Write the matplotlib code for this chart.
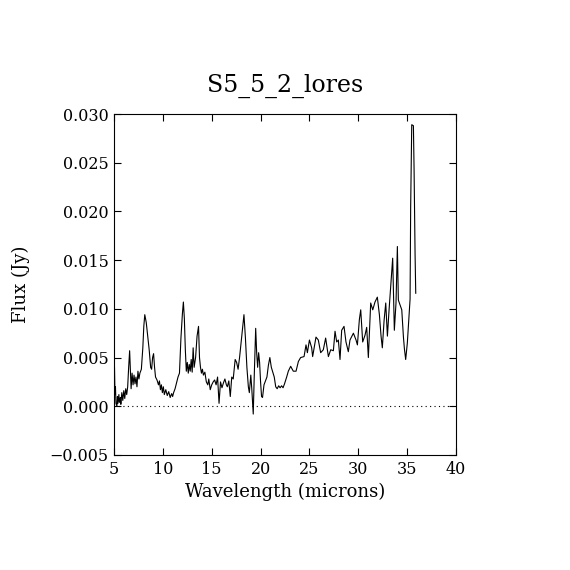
import matplotlib
matplotlib.use("Agg")
import matplotlib.pyplot as plt

wavelength = [
    5.00, 5.05, 5.10, 5.15, 5.20, 5.30, 5.35, 5.40, 5.50, 5.55,
    5.65, 5.70, 5.80, 5.90, 6.00, 6.10, 6.20, 6.30, 6.40, 6.50,
    6.60, 6.70, 6.75, 6.85, 6.95, 7.05, 7.15, 7.25, 7.35, 7.45,
    7.55, 7.65, 7.80, 7.95, 8.05, 8.15, 8.30, 8.45, 8.60, 8.75,
    8.85, 8.95, 9.05, 9.15, 9.25, 9.40, 9.55, 9.65, 9.75, 9.85,
    9.95, 10.05, 10.15, 10.30, 10.45, 10.60, 10.75, 10.90, 11.00, 11.10,
    11.25, 11.40, 11.55, 11.70, 11.85, 12.00, 12.10, 12.20, 12.30, 12.40,
    12.50, 12.60, 12.70, 12.80, 12.90, 13.00, 13.10, 13.20, 13.35, 13.50,
    13.65, 13.75, 13.85, 13.95, 14.05, 14.15, 14.30, 14.45, 14.60, 14.70,
    14.85, 15.00, 15.15, 15.30, 15.45, 15.60, 15.75, 15.90, 16.05, 16.20,
    16.35, 16.50, 16.60, 16.75, 16.90, 17.05, 17.20, 17.40, 17.55, 17.70,
    17.85, 18.00, 18.15, 18.30, 18.45, 18.60, 18.75, 18.85, 19.00, 19.10,
    19.25, 19.35, 19.50, 19.60, 19.70, 19.80, 19.90, 20.00, 20.10, 20.20,
    20.35, 20.50, 20.65, 20.80, 20.95, 21.10, 21.25, 21.40, 21.55, 21.70,
    21.85, 22.00, 22.15, 22.30, 22.45, 22.67, 22.84, 23.08, 23.35, 23.63,
    23.87, 24.10, 24.45, 24.65, 24.79, 25.00, 25.23, 25.33, 25.67, 25.91,
    26.15, 26.42, 26.66, 26.94, 27.18, 27.45, 27.62, 27.79, 27.96, 28.13,
    28.30, 28.54, 28.74, 28.98, 29.15, 29.50, 29.77, 29.91, 30.11, 30.25,
    30.45, 30.69, 30.86, 31.03, 31.20, 31.27, 31.48, 31.71, 31.95, 32.16,
    32.33, 32.46, 32.64, 32.81, 32.98, 33.15, 33.35, 33.52, 33.69, 33.86,
    34.00, 34.10, 34.45, 34.62, 34.72, 34.85, 35.02, 35.23, 35.30, 35.36,
    35.47, 35.64, 35.71, 35.81, 35.88,
]

flux = [
    0.0044, 0.0040, 0.0012, 0.0020, 0.0003, 0.0000, 0.0010, 0.0003, 0.0012, 0.0004,
    0.0009, 0.0002, 0.0014, 0.0006, 0.0016, 0.0008, 0.0018, 0.0012, 0.0020, 0.0040,
    0.0057, 0.0030, 0.0018, 0.0034, 0.0022, 0.0032, 0.0023, 0.0030, 0.0020, 0.0036,
    0.0028, 0.0034, 0.0038, 0.0060, 0.0082, 0.0094, 0.0086, 0.0072, 0.0058, 0.0040,
    0.0038, 0.0050, 0.0054, 0.0040, 0.0030, 0.0027, 0.0022, 0.0026, 0.0017, 0.0022,
    0.0014, 0.0020, 0.0012, 0.0017, 0.0011, 0.0015, 0.0009, 0.0013, 0.0010, 0.0014,
    0.0018, 0.0024, 0.0030, 0.0034, 0.0070, 0.0095, 0.0107, 0.0090, 0.0058, 0.0036,
    0.0045, 0.0034, 0.0043, 0.0036, 0.0048, 0.0035, 0.0060, 0.0040, 0.0050, 0.0072,
    0.0082, 0.0050, 0.0040, 0.0034, 0.0038, 0.0032, 0.0035, 0.0025, 0.0022, 0.0028,
    0.0017, 0.0022, 0.0025, 0.0027, 0.0022, 0.0030, 0.0003, 0.0025, 0.0019, 0.0024,
    0.0028, 0.0022, 0.0020, 0.0026, 0.0010, 0.0030, 0.0028, 0.0048, 0.0045, 0.0038,
    0.0050, 0.0065, 0.0080, 0.0094, 0.0070, 0.0040, 0.0020, 0.0014, 0.0032, 0.0018,
    -0.0008, 0.0030, 0.0080, 0.0055, 0.0040, 0.0055, 0.0045, 0.0025, 0.0010, 0.0009,
    0.0022, 0.0026, 0.0030, 0.0042, 0.0050, 0.0040, 0.0035, 0.0030, 0.0020, 0.0018,
    0.0021, 0.0019, 0.0021, 0.0019, 0.0023, 0.0030, 0.0036, 0.0041, 0.0036, 0.0036,
    0.0046, 0.0050, 0.0051, 0.0063, 0.0055, 0.0068, 0.0060, 0.0051, 0.0071, 0.0068,
    0.0055, 0.0058, 0.0070, 0.0051, 0.0058, 0.0057, 0.0077, 0.0066, 0.0068, 0.0048,
    0.0078, 0.0082, 0.0066, 0.0056, 0.0068, 0.0075, 0.0068, 0.0063, 0.0089, 0.0099,
    0.0066, 0.0073, 0.0081, 0.0050, 0.0090, 0.0106, 0.0099, 0.0107, 0.0112, 0.0094,
    0.0072, 0.0060, 0.0088, 0.0106, 0.0072, 0.0099, 0.0127, 0.0152, 0.0078, 0.0106,
    0.0164, 0.0109, 0.0099, 0.0071, 0.0059, 0.0048, 0.0065, 0.0099, 0.0110, 0.0204,
    0.0289, 0.0288, 0.0243, 0.0157, 0.0116,
]

x_ticks = [5, 10, 15, 20, 25, 30, 35, 40]
y_ticks = [-0.005, 0.000, 0.005, 0.010, 0.015, 0.020, 0.025, 0.030]
y_tick_labels = ["\u22120.005", "0.000", "0.005", "0.010", "0.015", "0.020", "0.025", "0.030"]

plt.rcParams['font.family'] = ['DejaVu Serif']

fig = plt.figure(figsize=(5.7, 5.7), dpi=100)
ax = fig.add_axes([0.2, 0.2018, 0.6, 0.5982])

ax.plot(wavelength, flux, color='black', linewidth=0.8)
ax.axhline(0.0, color='black', linewidth=0.8, linestyle=(0, (1, 3)))

ax.set_xlim(5, 40)
ax.set_ylim(-0.005, 0.030)
ax.set_xticks(x_ticks)
ax.set_xticklabels([str(t) for t in x_ticks])
ax.set_yticks(y_ticks)
ax.set_yticklabels(y_tick_labels)
ax.tick_params(direction='in', length=5, width=0.8, top=True, right=True,
               labelsize=11.5, pad=4)
ax.minorticks_off()
for s in ax.spines.values():
    s.set_linewidth(0.8)

ax.set_xlabel("Wavelength (microns)", fontsize=13, labelpad=4)
ax.set_ylabel("Flux (Jy)", fontsize=13, labelpad=14)
ax.set_title("S5_5_2_lores", fontsize=17, pad=16)

fig.savefig("out.png", dpi=100)
